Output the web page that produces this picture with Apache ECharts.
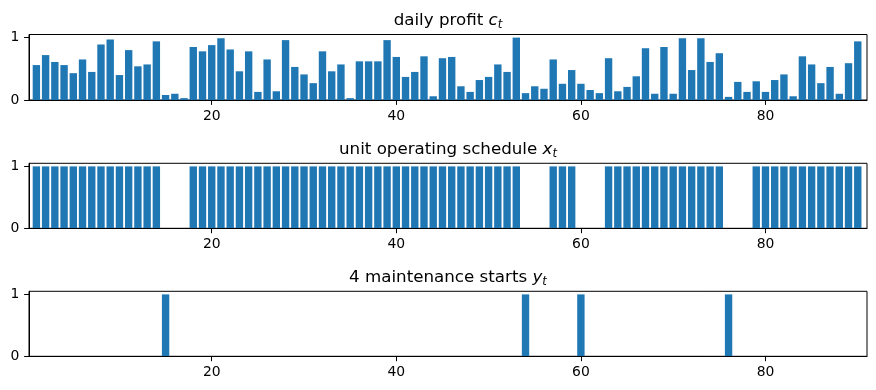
<!DOCTYPE html>
<html>
<head>
<meta charset="utf-8">
<script src="https://cdn.jsdelivr.net/npm/echarts@6/dist/echarts.min.js"></script>
<style>
html,body{margin:0;padding:0;background:#fff;}
#chart{width:876px;height:390px;}
</style>
</head>
<body>
<div id="chart"></div>
<script>
const days = [1,2,3,4,5,6,7,8,9,10,11,12,13,14,15,16,17,18,19,20,
21,22,23,24,25,26,27,28,29,30,31,32,33,34,35,36,37,38,39,40,
41,42,43,44,45,46,47,48,49,50,51,52,53,54,55,56,57,58,59,60,
61,62,63,64,65,66,67,68,69,70,71,72,73,74,75,76,77,78,79,80,
81,82,83,84,85,86,87,88,89,90];

const profit = [0.56,0.72,0.61,0.56,0.43,0.65,0.45,0.89,0.97,0.40,
0.80,0.54,0.57,0.94,0.08,0.10,0.03,0.85,0.78,0.88,
0.99,0.81,0.46,0.78,0.13,0.65,0.14,0.96,0.53,0.41,
0.27,0.78,0.46,0.57,0.03,0.62,0.62,0.62,0.96,0.69,
0.37,0.45,0.70,0.06,0.67,0.69,0.22,0.13,0.32,0.37,
0.57,0.45,1.00,0.11,0.22,0.18,0.65,0.26,0.48,0.26,
0.16,0.11,0.67,0.14,0.21,0.38,0.83,0.10,0.85,0.10,
0.99,0.48,0.99,0.61,0.75,0.05,0.29,0.13,0.30,0.13,
0.32,0.41,0.06,0.70,0.57,0.27,0.53,0.10,0.59,0.94];

const schedule = [1,1,1,1,1,1,1,1,1,1,1,1,1,1,0,0,0,1,1,1,
1,1,1,1,1,1,1,1,1,1,1,1,1,1,1,1,1,1,1,1,
1,1,1,1,1,1,1,1,1,1,1,1,1,0,0,0,1,1,1,0,
0,0,1,1,1,1,1,1,1,1,1,1,1,1,1,0,0,0,1,1,
1,1,1,1,1,1,1,1,1,1];

const starts = [0,0,0,0,0,0,0,0,0,0,0,0,0,0,1,0,0,0,0,0,
0,0,0,0,0,0,0,0,0,0,0,0,0,0,0,0,0,0,0,0,
0,0,0,0,0,0,0,0,0,0,0,0,0,1,0,0,0,0,0,1,
0,0,0,0,0,0,0,0,0,0,0,0,0,0,0,1,0,0,0,0,
0,0,0,0,0,0,0,0,0,0];

const xTicks = [20,40,60,80];
const yTicks = [0,1];
const titles = [
  ['daily profit ', 'c', 't'],
  ['unit operating schedule ', 'x', 't'],
  ['4 maintenance starts ', 'y', 't']
];
const seriesValues = [profit, schedule, starts];

const FONT = 'DejaVu Sans';
const X_MIN = 0.2, X_MAX = 91;
const GRID_LEFT = 29, GRID_RIGHT = 9;
const grids = [
  {top: 34.5, height: 65.5},
  {top: 163.3, height: 65},
  {top: 291.3, height: 65}
];
const W = 876;
const plotW = W - GRID_LEFT - GRID_RIGHT;
const barW = 0.8 * plotW / (X_MAX - X_MIN);

const chart = echarts.init(document.getElementById('chart'), null, {renderer: 'canvas'});

const option = {
  animation: false,
  backgroundColor: '#fff',
  title: titles.map((t, i) => ({
    text: '{a|' + t[0] + '}{i|' + t[1] + '}{s|' + t[2] + '}',
    left: GRID_LEFT + plotW / 2,
    top: grids[i].top - 23.4,
    textAlign: 'center',
    padding: 0,
    textStyle: {
      fontFamily: FONT, fontSize: 16.7, fontWeight: 'normal', color: '#000',
      rich: {
        a: {fontFamily: FONT, fontSize: 16.7, color: '#000', lineHeight: 20},
        i: {fontFamily: FONT, fontSize: 16.7, fontStyle: 'italic', color: '#000', lineHeight: 20},
        s: {fontFamily: FONT, fontSize: 11.7, fontStyle: 'italic', color: '#000', lineHeight: 12, padding: [8, 0, 0, 0]}
      }
    }
  })),
  grid: grids.map(g => ({
    left: GRID_LEFT, right: GRID_RIGHT, top: g.top, height: g.height,
    show: true, borderColor: '#000', borderWidth: 1, backgroundColor: 'transparent'
  })),
  xAxis: grids.map((g, i) => ({
    type: 'value', gridIndex: i, min: X_MIN, max: X_MAX,
    axisLine: {show: true, lineStyle: {color: '#000', width: 1}},
    axisTick: {show: true, length: 4.9, lineStyle: {color: '#000', width: 1}, customValues: xTicks},
    axisLabel: {show: true, customValues: xTicks, fontFamily: FONT, fontSize: 13.9, color: '#000', margin: 9.5},
    splitLine: {show: false},
    z: 10
  })),
  yAxis: grids.map((g, i) => ({
    type: 'value', gridIndex: i, min: 0, max: 1.05,
    axisLine: {show: true, lineStyle: {color: '#000', width: 1}},
    axisTick: {show: true, length: 4.9, lineStyle: {color: '#000', width: 1}, customValues: yTicks},
    axisLabel: {show: true, customValues: yTicks, fontFamily: FONT, fontSize: 13.9, color: '#000', margin: 9.7},
    splitLine: {show: false},
    z: 10
  })),
  series: seriesValues.map((vals, i) => ({
    type: 'bar',
    xAxisIndex: i, yAxisIndex: i,
    barWidth: barW,
    itemStyle: {color: '#1f77b4'},
    data: days.map((d, k) => [d, vals[k]])
  }))
};
chart.setOption(option);
</script>
</body>
</html>
